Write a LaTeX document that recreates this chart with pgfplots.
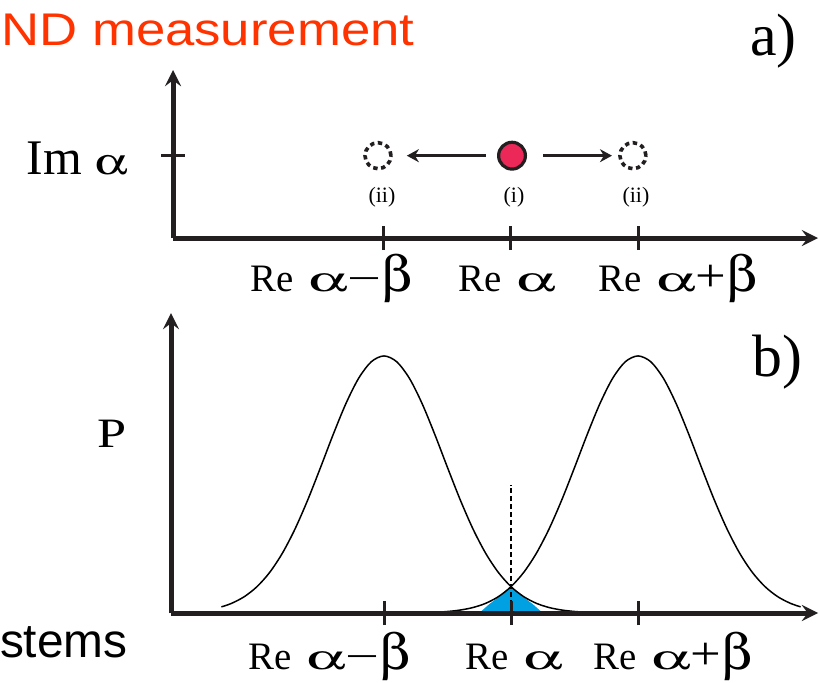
\documentclass[border=0pt]{standalone}
\usepackage{pgfplots}
\pgfplotsset{compat=1.18}
\usepackage{fontspec}
\usepackage{graphicx}
\usepackage[Symbol]{upgreek}
\setmainfont{Liberation Serif}
\newfontfamily\arial{Liberation Sans}
\usetikzlibrary{arrows.meta}

\definecolor{axisblack}{RGB}{35,31,32}
\definecolor{ptred}{RGB}{235,40,88}
\definecolor{fillblue}{RGB}{0,161,226}
\definecolor{titlered}{RGB}{255,51,0}

% stretched Symbol glyphs, as in the original figure
\newcommand{\ga}{\scalebox{1.6}[0.9]{$\upalpha$}}
\newcommand{\gb}{\scalebox{1.45}[1.3]{$\upbeta$}}
\newcommand{\gm}{\scalebox{1.55}[1]{−}}
\newcommand{\gp}{\scalebox{1.4}[1.2]{+}}
\newcommand{\lab}[1]{\fontsize{19.5}{19.5}\selectfont #1}
\newcommand{\re}{Re \hspace{2.5bp}}

\pgfplotsset{
  panel/.style={
    scale only axis, anchor=south west,
    axis lines=left, axis on top, clip=false,
    axis line style={line width=2.5bp, draw=axisblack},
    every non boxed x axis/.append style={x axis line style={-{Stealth[length=9bp,width=7bp]}}},
    every non boxed y axis/.append style={y axis line style={-{Stealth[length=9bp,width=7bp]}}},
    xtick={-1,0,1}, xticklabels={}, yticklabels={},
    tick align=center, major tick length=12bp,
    tick style={line width=1.5bp, draw=axisblack},
  },
}

\begin{document}
\begin{tikzpicture}
\useasboundingbox (0,0) rectangle (410bp,-341.5bp);

%% --- a) phase space ---
\begin{axis}[panel,
    at={(86.5bp,-119bp)}, width=322.5bp, height=84bp,
    xmin=-2.661, xmax=2.417, ymin=0, ymax=1,
    ytick={0.494},
  ]
  % shifted states (ii)
  \addplot[only marks, mark=*, mark size=6.5bp,
    mark options={fill=white, draw=axisblack, line width=1.8bp, dash pattern=on 2.2bp off 1.8bp}]
    coordinates {(-1.047,0.49) (0.96,0.49)};
  % initial state (i)
  \addplot[only marks, mark=*, mark size=6.7bp,
    mark options={fill=ptred, draw=axisblack, line width=1.6bp}]
    coordinates {(0.008,0.49)};
  % displacement arrows
  \addplot[line width=1.5bp, axisblack, -{Stealth[length=6bp,width=6.5bp]}]
    coordinates {(-0.197,0.49) (-0.82,0.49)};
  \addplot[line width=1.5bp, axisblack, -{Stealth[length=6bp,width=6.5bp]}]
    coordinates {(0.252,0.49) (0.795,0.49)};
\end{axis}

%% --- b) probability distributions ---
\begin{axis}[panel,
    at={(85.5bp,-306.5bp)}, width=323.5bp, height=150bp,
    xmin=-2.677, xmax=2.417, ymin=0, ymax=1.167,
    ytick=\empty,
  ]
  % overlap
  \addplot[fill=fillblue, draw=none]
    coordinates {(-0.25,0) (-0.17,0.035) (-0.08,0.068) (0,0.1025)
                 (0.08,0.068) (0.17,0.035) (0.25,0)} \closedcycle;
  % P(Re alpha - beta)
  \addplot[smooth, line width=0.75bp, black] coordinates {
    (-2.28,0.0239) (-2.2,0.0376) (-2.1,0.0635) (-2.0,0.1025) (-1.9,0.1580)
    (-1.8,0.2327) (-1.7,0.3275) (-1.6,0.4404) (-1.5,0.5658) (-1.4,0.6946)
    (-1.3,0.8146) (-1.2,0.9129) (-1.1,0.9775) (-1.0,1.0) (-0.9,0.9775)
    (-0.8,0.9129) (-0.7,0.8146) (-0.6,0.6946) (-0.5,0.5658) (-0.4,0.4404)
    (-0.3,0.3275) (-0.2,0.2327) (-0.1,0.1580) (0.0,0.1025) (0.1,0.0635)
    (0.2,0.0376) (0.3,0.0213) (0.4,0.0115) (0.5,0.0059) (0.6,0.0029)
    (0.8,0.0006) (1.0,0.0001) (1.4,0.0)};
  % P(Re alpha + beta)
  \addplot[smooth, line width=0.75bp, black] coordinates {
    (-1.4,0.0) (-1.0,0.0001) (-0.8,0.0006) (-0.6,0.0029) (-0.5,0.0059)
    (-0.4,0.0115) (-0.3,0.0213) (-0.2,0.0376) (-0.1,0.0635) (0.0,0.1025)
    (0.1,0.1580) (0.2,0.2327) (0.3,0.3275) (0.4,0.4404) (0.5,0.5658)
    (0.6,0.6946) (0.7,0.8146) (0.8,0.9129) (0.9,0.9775) (1.0,1.0)
    (1.1,0.9775) (1.2,0.9129) (1.3,0.8146) (1.4,0.6946) (1.5,0.5658)
    (1.6,0.4404) (1.7,0.3275) (1.8,0.2327) (1.9,0.1580) (2.0,0.1025)
    (2.1,0.0635) (2.2,0.0376) (2.28,0.0239)};
  % Re alpha
  \addplot[line width=0.75bp, black, dash pattern=on 2.5bp off 1.5bp]
    coordinates {(0,0) (0,0.498)};
\end{axis}

%% --- texts, placed in pixel units of the reference ---
\begin{scope}[x=0.5bp, y=-0.5bp]
  \node[anchor=base west, inner sep=0, text=titlered, font=\arial\fontsize{23}{23}\selectfont]
    at (1,45) {\scalebox{1.15}[1]{ND measurement}};
  \node[anchor=base east, inner sep=0, font=\arial\fontsize{24}{24}\selectfont]
    at (128,658) {stems};
  \node[anchor=base east, inner sep=0, font=\fontsize{30}{30}\selectfont] at (797,55) {a)};
  \node[anchor=base east, inner sep=0, font=\fontsize{30}{30}\selectfont] at (803,377) {b)};
  \node[anchor=base east, inner sep=0, font=\fontsize{25}{25}\selectfont]
    at (128,175) {Im \scalebox{1.05}[0.75]{$\upalpha$}};
  \node[anchor=base west, inner sep=0, font=\fontsize{21}{21}\selectfont]
    at (97,448) {\scalebox{1.25}[1]{P}};
  \foreach \cx/\t in {382/(ii), 514/(i), 636/(ii)}
    \node[anchor=base, inner sep=0, font=\fontsize{11}{11}\selectfont] at (\cx,203) {\t};
  % x tick labels of a)
  \node[anchor=base west, inner sep=0] at (250,292) {\lab{\re\ga\gm\gb}};
  \node[anchor=base west, inner sep=0] at (458,292) {\lab{\re\ga}};
  \node[anchor=base west, inner sep=0] at (598,292) {\lab{\re\ga\gp\gb}};
  % x tick labels of b)
  \node[anchor=base west, inner sep=0] at (248,670) {\lab{\re\ga\gm\gb}};
  \node[anchor=base west, inner sep=0] at (465,670) {\lab{\re\ga}};
  \node[anchor=base west, inner sep=0] at (593,670) {\lab{\re\ga\gp\gb}};
\end{scope}
\end{tikzpicture}
\end{document}
